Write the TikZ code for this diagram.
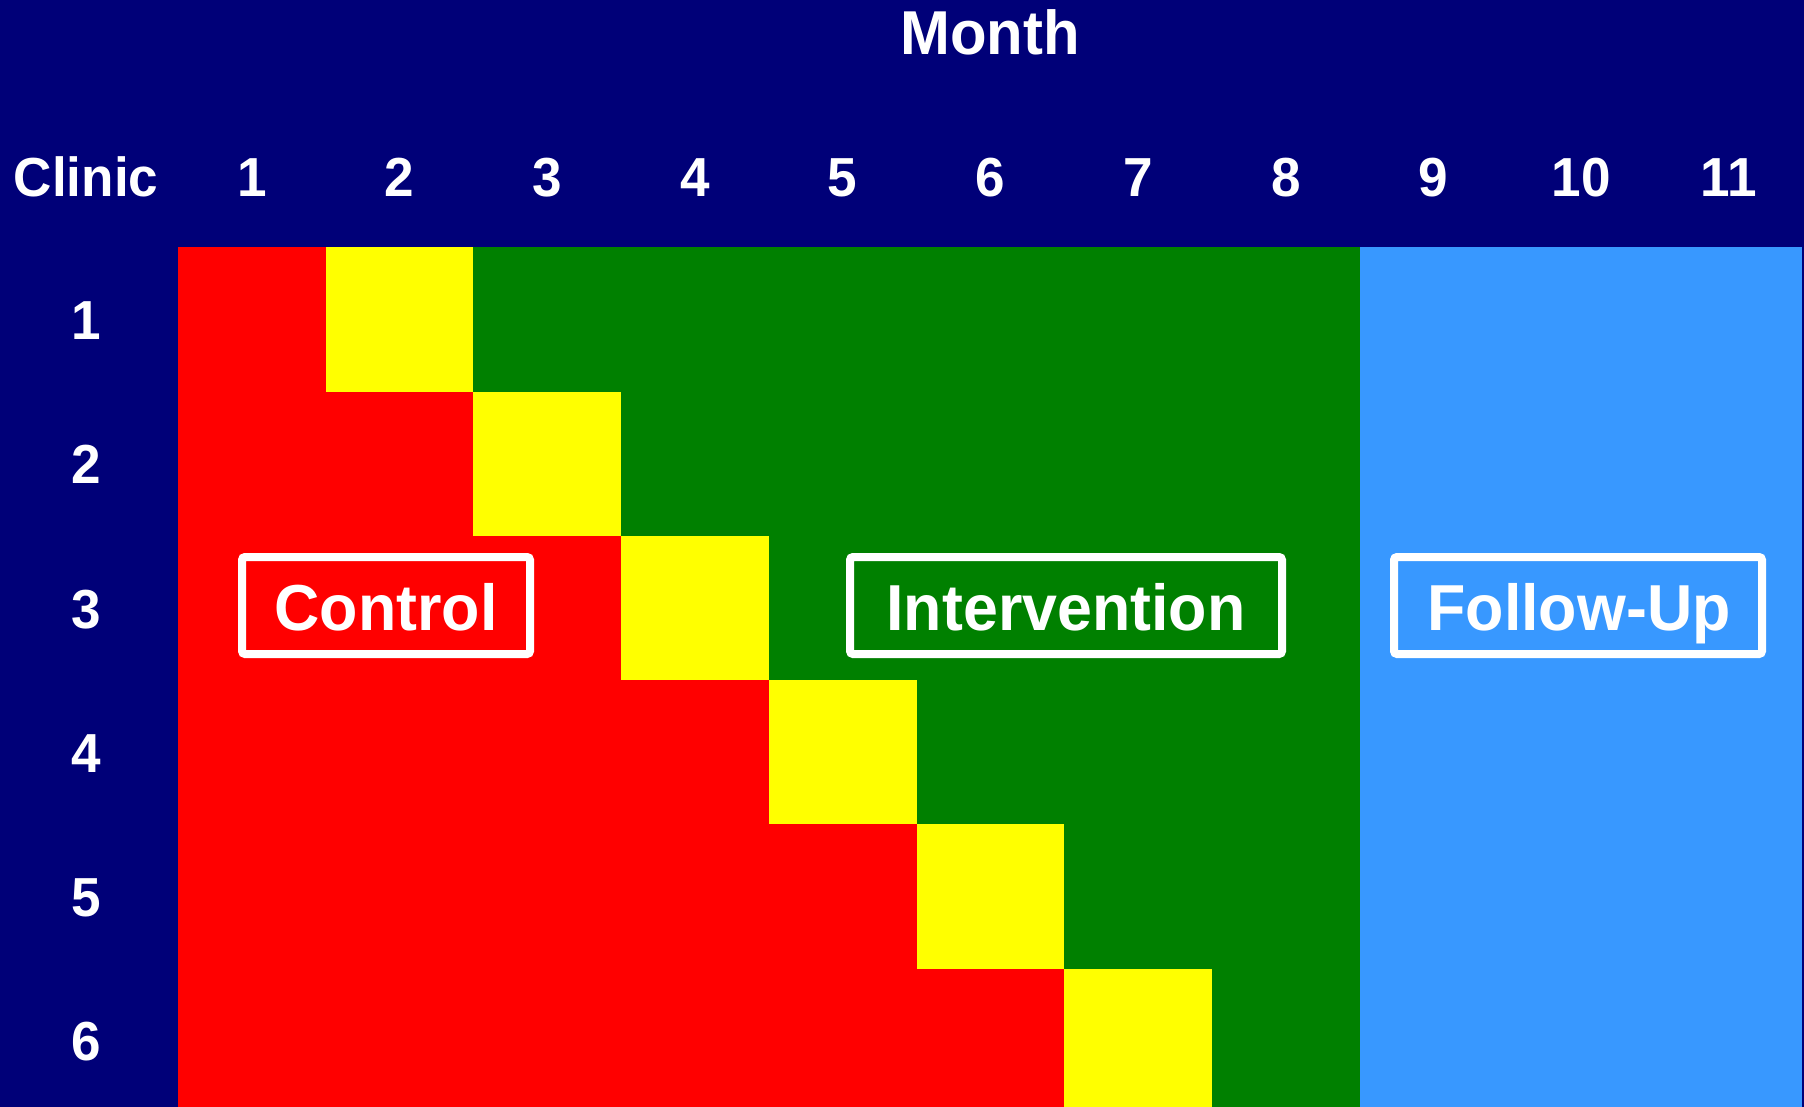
\documentclass[tikz,border=0pt]{standalone}
\usepackage{fontspec}
\setmainfont{Liberation Sans}[FakeStretch=0.965]
\definecolor{navybg}{HTML}{000078}
\definecolor{ctrlred}{HTML}{FF0000}
\definecolor{steplight}{HTML}{FFFF00}
\definecolor{intgreen}{HTML}{008000}
\definecolor{fupblue}{HTML}{3898FF}
\begin{document}
\begin{tikzpicture}[x=1pt,y=-1pt,
  lbl/.style={text=white,font=\bfseries\fontsize{55}{60}\selectfont,anchor=base,inner sep=0pt},
  titlelbl/.style={text=white,font=\bfseries\fontsize{62}{68}\selectfont,anchor=base,inner sep=0pt},
  phasebox/.style={draw=white,line width=8pt,rounded corners=3pt,inner sep=0pt,minimum height=97pt},
  phasetxt/.style={text=white,font=\bfseries\fontsize{65}{70}\selectfont,anchor=base,inner sep=0pt}]
% background
\fill[navybg] (0,0) rectangle (1804,1107);
\useasboundingbox (0,0) rectangle (1804,1107);
% follow-up columns 9-11 and intervention columns 1-8
\fill[fupblue] (1359.6,247.5) rectangle (1801.7,1107);
\fill[intgreen] (178,247.5) rectangle (1359.6,1107);
% stepped-wedge staircase: control (red) then crossover month (yellow)
\foreach \r in {1,...,6}{
  \fill[ctrlred] (178,{247.5+(\r-1)*144.2}) rectangle ({178+(\r+0.5)*147.7},{247.5+\r*144.2+1});
  \fill[steplight] ({178+\r*147.7},{247.5+(\r-1)*144.2}) rectangle ({178+(\r+1)*147.7},{247.5+\r*144.2+1});
}
% headings
\node[titlelbl] (month) at (990,55) {Month};
\node[lbl] (clinic) at (86,197) {Clinic};
\foreach \c in {1,...,11}
  \node[lbl] (m\c) at ({178+(\c-0.5)*147.7},197) {\c};
\foreach \r in {1,...,6}
  \node[lbl] (c\r) at (86,{247.5+(\r-0.5)*144.2+20}) {\r};
% phase labels
\node[phasebox,minimum width=288pt] (ctrlbox) at (386,605.5) {};
\node[phasetxt] (ctrltxt) at (386,630) {Control};
\node[phasebox,minimum width=432pt] (intbox) at (1066,605.5) {};
\node[phasetxt] (inttxt) at (1066,630) {Intervention};
\node[phasebox,minimum width=368pt] (fupbox) at (1578,605.5) {};
\node[phasetxt] (fuptxt) at (1579,630) {Follow-Up};
\end{tikzpicture}
\end{document}
